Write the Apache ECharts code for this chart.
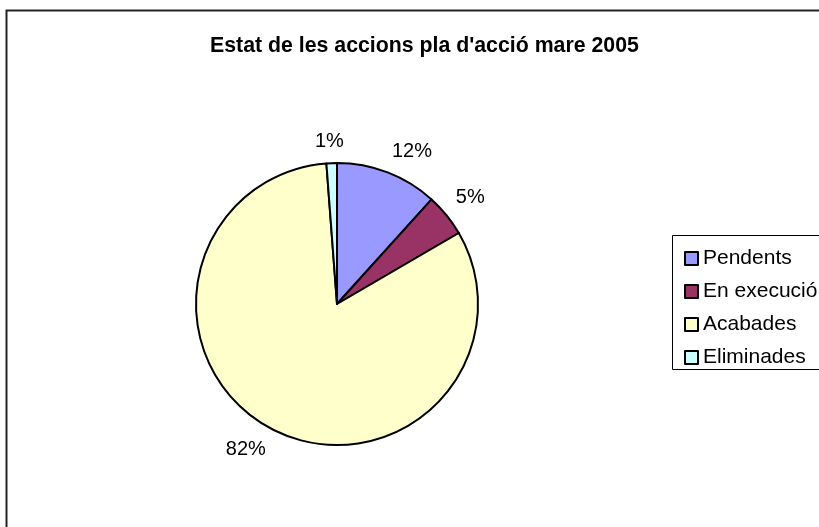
<!DOCTYPE html>
<html>
<head>
<meta charset="utf-8">
<script src="https://cdn.jsdelivr.net/npm/echarts@6/dist/echarts.min.js"></script>
<style>
html,body{margin:0;padding:0;background:#fff;}
#chart{width:819px;height:527px;}
</style>
</head>
<body>
<div id="chart"></div>
<script>
const titleText = "Estat de les accions pla d'acció mare 2005";
const categories = ["Pendents", "En execució", "Acabades", "Eliminades"];
const values = [11.7, 4.9, 82.2, 1.2];
const colors = ["#9999FF", "#993366", "#FFFFCC", "#CCFFFF"];

const FONT = "'Liberation Sans', Arial, sans-serif";
const CX = 337, CY = 304, R = 141, LABEL_R = 153;

const total = values.reduce((a, b) => a + b, 0);
function midAngle(i) {
  let s = 0;
  for (let k = 0; k < i; k++) s += values[k];
  return ((s + values[i] / 2) / total) * Math.PI * 2;
}

const chart = echarts.init(document.getElementById('chart'), null, {renderer: 'canvas'});
chart.setOption({
  animation: false,
  backgroundColor: '#ffffff',
  color: colors,
  title: {
    text: titleText,
    left: 205,
    top: 31,
    textStyle: {fontFamily: FONT, fontSize: 21.3, fontWeight: 'bold', color: '#000'}
  },
  graphic: [
    {type: 'rect', shape: {x: 6.5, y: 10.5, width: 830, height: 540}, style: {fill: 'none', stroke: '#222', lineWidth: 2}, z: 100},
    {type: 'rect', shape: {x: 672.5, y: 235.5, width: 160, height: 134}, style: {fill: 'none', stroke: '#000', lineWidth: 1}, z: 100}
  ],
  legend: {
    orient: 'vertical',
    left: 679,
    top: 243,
    itemWidth: 13,
    itemHeight: 13,
    itemGap: 12,
    icon: 'rect',
    data: categories,
    textStyle: {fontFamily: FONT, fontSize: 21, color: '#000'}
  },
  series: [{
    type: 'pie',
    center: [CX, CY],
    radius: [0, R],
    startAngle: 90,
    clockwise: true,
    avoidLabelOverlap: false,
    itemStyle: {borderColor: '#000', borderWidth: 2},
    emphasis: {disabled: true},
    label: {
      show: true,
      position: 'outside',
      fontFamily: FONT,
      fontSize: 20,
      color: '#000',
      formatter: p => Math.round(p.percent) + '%'
    },
    labelLine: {show: false, length: 10, length2: 0},
    labelLayout: function (params) {
      const th = midAngle(params.dataIndex);
      const s = Math.sin(th), c = Math.cos(th);
      const w = params.labelRect.width, h = params.labelRect.height;
      const px = CX + LABEL_R * s, py = CY - LABEL_R * c;
      const fx = Math.max(-1, Math.min(1, s / 0.3));
      const fy = Math.max(-1, Math.min(1, c / 0.3));
      return {
        x: px + fx * w / 2,
        y: py - fy * h / 2,
        align: 'center',
        verticalAlign: 'middle'
      };
    },
    data: categories.map((c, i) => ({name: c, value: values[i]}))
  }]
});
</script>
</body>
</html>
